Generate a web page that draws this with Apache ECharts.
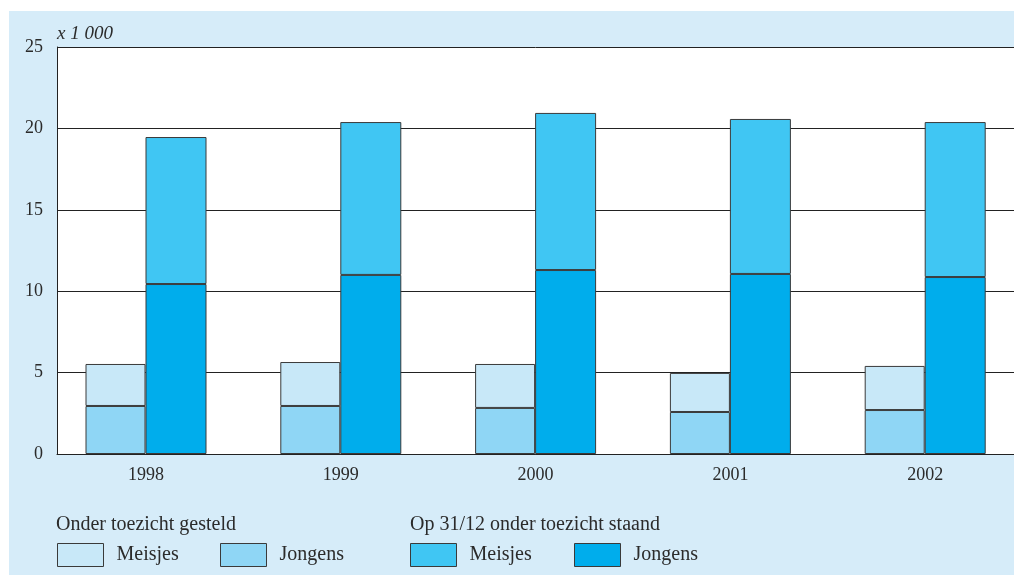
<!DOCTYPE html>
<html>
<head>
<meta charset="utf-8">
<script src="https://cdn.jsdelivr.net/npm/echarts@6/dist/echarts.min.js"></script>
<style>
  html, body { margin: 0; padding: 0; background: #fff; }
  #wrap { position: relative; width: 1014px; height: 579px; overflow: hidden; }
  #bg { position: absolute; left: 9px; top: 11px; width: 1005px; height: 564px; background: #d6ecf9; }
  #chart { position: absolute; left: 0; top: 0; width: 1040px; height: 579px; }
</style>
</head>
<body>
<div id="wrap">
  <div id="bg"></div>
  <div id="chart"></div>
</div>
<script>
// jaren en waarden (x 1 000)
const years = ['1998', '1999', '2000', '2001', '2002']
const gesteldJongens = [2.95, 2.95, 2.83, 2.58, 2.70]
const gesteldMeisjes = [2.58, 2.70, 2.70, 2.40, 2.71]
const staandJongens = [10.44, 11.0, 11.3, 11.06, 10.87]
const staandMeisjes = [9.03, 9.39, 9.65, 9.52, 9.52]
const yTicks = [0, 5, 10, 15, 20, 25]

const font = 'Liberation Serif'
const textColor = '#2b2b2b'
const border = { borderColor: '#3a3a3a', borderWidth: 1 }

// canvas is a bit wider than the visible page so the bar band can run past the right edge
const chart = echarts.init(document.getElementById('chart'))

const mkLegend = (name, left) => ({
  data: [name],
  left: left,
  top: 543,
  itemWidth: 46,
  itemHeight: 23,
  itemGap: 0,
  padding: 0,
  icon: 'rect',
  selectedMode: false,
  itemStyle: border,
  textStyle: { fontFamily: font, fontSize: 20, color: textColor, padding: [0, 0, 0, 8] },
  formatter: n => n.split('_')[0]
})

chart.setOption({
  animation: false,
  title: {
    text: 'x 1 000',
    left: 57,
    top: 24,
    padding: 0,
    textStyle: { fontFamily: font, fontSize: 19, fontStyle: 'italic', fontWeight: 'normal', color: textColor }
  },
  graphic: [
    { type: 'text', left: 56, top: 515, style: { text: 'Onder toezicht gesteld', font: '20px "Liberation Serif"', fill: textColor } },
    { type: 'text', left: 410, top: 515, style: { text: 'Op 31/12 onder toezicht staand', font: '20px "Liberation Serif"', fill: textColor } }
  ],
  legend: [
    mkLegend('Meisjes_g', 57),
    mkLegend('Jongens_g', 220),
    mkLegend('Meisjes_s', 410),
    mkLegend('Jongens_s', 574)
  ],
  grid: [
    { left: 48.6, width: 974, top: 47, bottom: 125 },
    { left: 57, right: 26, top: 47, bottom: 125, show: true, backgroundColor: '#fff', borderWidth: 0 }
  ],
  xAxis: [
    {
      type: 'category', gridIndex: 0, data: years,
      axisLine: { show: false }, axisTick: { show: false },
      axisLabel: { fontFamily: font, fontSize: 18, color: textColor, margin: 12 }
    },
    {
      type: 'category', gridIndex: 1, data: years,
      axisLine: { show: true, lineStyle: { color: '#222', width: 1 } },
      axisTick: { show: false }, axisLabel: { show: false }
    }
  ],
  yAxis: [
    { type: 'value', gridIndex: 0, min: 0, max: 25, interval: 5, show: false },
    {
      type: 'value', gridIndex: 1, min: yTicks[0], max: yTicks[yTicks.length - 1], interval: 5,
      axisLine: { show: true, lineStyle: { color: '#222', width: 1 } },
      axisTick: { show: false },
      axisLabel: { fontFamily: font, fontSize: 18, color: textColor, margin: 14 },
      splitLine: { show: true, lineStyle: { color: '#222', width: 1 } }
    }
  ],
  series: [
    {
      name: 'Jongens_g', type: 'bar', stack: 'g', xAxisIndex: 0, yAxisIndex: 0,
      barWidth: 60, barGap: '0%', data: gesteldJongens,
      itemStyle: { color: '#8fd6f5', ...border }
    },
    {
      name: 'Meisjes_g', type: 'bar', stack: 'g', xAxisIndex: 0, yAxisIndex: 0,
      barWidth: 60, data: gesteldMeisjes,
      itemStyle: { color: '#c8e8f8', ...border }
    },
    {
      name: 'Jongens_s', type: 'bar', stack: 's', xAxisIndex: 0, yAxisIndex: 0,
      barWidth: 61, data: staandJongens,
      itemStyle: { color: '#00adec', ...border }
    },
    {
      name: 'Meisjes_s', type: 'bar', stack: 's', xAxisIndex: 0, yAxisIndex: 0,
      barWidth: 61, data: staandMeisjes,
      itemStyle: { color: '#40c6f3', ...border }
    }
  ]
})
</script>
</body>
</html>
